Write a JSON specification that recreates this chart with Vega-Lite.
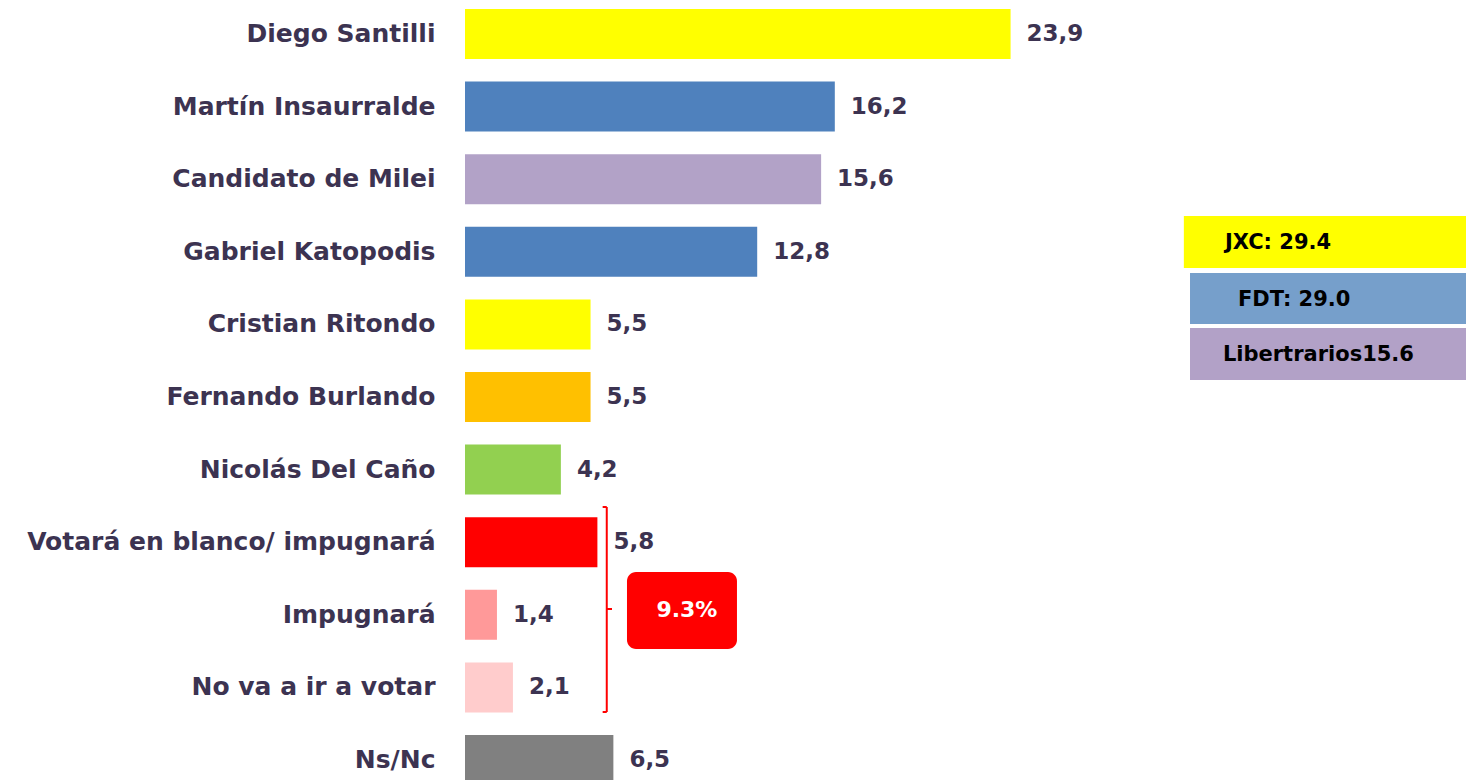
{
  "$schema": "https://vega.github.io/schema/vega-lite/v6.json",
  "width": 1001,
  "height": 794,
  "autosize": {"type": "none"},
  "padding": {"left": 465, "top": 0, "right": 0, "bottom": 0},
  "background": "white",
  "config": {
    "view": {"stroke": null},
    "locale": {"number": {"decimal": ",", "thousands": ".", "grouping": [3], "currency": ["", " €"]}}
  },
  "resolve": {"scale": {"y": "independent", "color": "independent"}},
  "layer": [
    {
      "data": {
        "values": [
          {"candidato": "Diego Santilli", "valor": 23.9},
          {"candidato": "Martín Insaurralde", "valor": 16.2},
          {"candidato": "Candidato de Milei", "valor": 15.6},
          {"candidato": "Gabriel Katopodis", "valor": 12.8},
          {"candidato": "Cristian Ritondo", "valor": 5.5},
          {"candidato": "Fernando Burlando", "valor": 5.5},
          {"candidato": "Nicolás Del Caño", "valor": 4.2},
          {"candidato": "Votará en blanco/ impugnará", "valor": 5.8},
          {"candidato": "Impugnará", "valor": 1.4},
          {"candidato": "No va a ir a votar", "valor": 2.1},
          {"candidato": "Ns/Nc", "valor": 6.5}
        ]
      },
      "encoding": {
        "y": {
          "field": "candidato",
          "type": "nominal",
          "sort": null,
          "scale": {"paddingInner": 0.5, "paddingOuter": 0.2183},
          "axis": {
            "title": null,
            "domain": false,
            "ticks": false,
            "labelPadding": 30,
            "labelFont": "DejaVu Sans",
            "labelFontWeight": "bold",
            "labelFontSize": 25,
            "labelColor": "#3c3351",
            "labelLimit": 600
          }
        },
        "x": {
          "field": "valor",
          "type": "quantitative",
          "scale": {"domain": [0, 43.85], "nice": false, "zero": true},
          "axis": null
        }
      },
      "layer": [
        {
          "mark": {"type": "bar", "size": 50},
          "encoding": {
            "color": {
              "field": "candidato",
              "type": "nominal",
              "legend": null,
              "scale": {
                "domain": ["Diego Santilli", "Martín Insaurralde", "Candidato de Milei", "Gabriel Katopodis", "Cristian Ritondo", "Fernando Burlando", "Nicolás Del Caño", "Votará en blanco/ impugnará", "Impugnará", "No va a ir a votar", "Ns/Nc"],
                "range": ["#ffff00", "#4f81bd", "#b2a2c7", "#4f81bd", "#ffff00", "#ffc000", "#92d050", "#ff0000", "#ff9999", "#ffcccc", "#808080"]
              }
            }
          }
        },
        {
          "mark": {"type": "text", "align": "left", "baseline": "middle", "dx": 16, "font": "DejaVu Sans", "fontWeight": "bold", "fontSize": 23, "color": "#3c3351"},
          "encoding": {"text": {"field": "valor", "type": "quantitative", "format": ".1f"}}
        }
      ]
    },
    {
      "layer": [
        {
          "data": {
            "values": [
              {"grupo": "JXC", "x0": 31.49, "x1": 43.85, "y0": 2.507, "y1": 3.223},
              {"grupo": "FDT", "x0": 31.76, "x1": 43.85, "y0": 3.292, "y1": 3.994},
              {"grupo": "Libertarios", "x0": 31.76, "x1": 43.85, "y0": 4.05, "y1": 4.766}
            ]
          },
          "mark": {"type": "rect"},
          "encoding": {
            "x": {"field": "x0", "type": "quantitative", "scale": {"domain": [0, 43.85], "nice": false}, "axis": null},
            "x2": {"field": "x1"},
            "y": {"field": "y0", "type": "quantitative", "scale": {"domain": [-0.4683, 10.4683], "reverse": true, "nice": false, "zero": false}, "axis": null},
            "y2": {"field": "y1"},
            "color": {
              "field": "grupo",
              "type": "nominal",
              "legend": null,
              "scale": {"domain": ["JXC", "FDT", "Libertarios"], "range": ["#ffff00", "#769fcb", "#b2a1c7"]}
            }
          }
        },
        {
          "data": {
            "values": [
              {"texto": "JXC: 29.4", "x": 33.29, "y": 2.879},
              {"texto": "FDT: 29.0", "x": 33.86, "y": 3.664},
              {"texto": "Libertrarios15.6", "x": 33.2, "y": 4.421}
            ]
          },
          "mark": {"type": "text", "align": "left", "baseline": "middle", "font": "DejaVu Sans", "fontWeight": "bold", "fontSize": 21, "color": "#000000"},
          "encoding": {
            "x": {"field": "x", "type": "quantitative", "scale": {"domain": [0, 43.85], "nice": false}, "axis": null},
            "y": {"field": "y", "type": "quantitative", "axis": null},
            "text": {"field": "texto"}
          }
        },
        {
          "data": {
            "values": [
              {"x0": 6.21, "x1": 6.21, "y0": 6.515, "y1": 9.339},
              {"x0": 6.03, "x1": 6.21, "y0": 6.515, "y1": 6.515},
              {"x0": 6.03, "x1": 6.21, "y0": 9.339, "y1": 9.339},
              {"x0": 6.21, "x1": 6.44, "y0": 7.92, "y1": 7.92}
            ]
          },
          "mark": {"type": "rule", "color": "#ff0000", "strokeWidth": 2},
          "encoding": {
            "x": {"field": "x0", "type": "quantitative", "scale": {"domain": [0, 43.85], "nice": false}, "axis": null},
            "x2": {"field": "x1"},
            "y": {"field": "y0", "type": "quantitative", "axis": null},
            "y2": {"field": "y1"}
          }
        },
        {
          "data": {"values": [{"texto": "9.3%", "x0": 7.096, "x1": 11.914, "y0": 7.41, "y1": 8.471, "tx": 9.72, "ty": 7.934}]},
          "layer": [
            {
              "mark": {"type": "rect", "color": "#ff0000", "cornerRadius": 9},
              "encoding": {
                "x": {"field": "x0", "type": "quantitative", "scale": {"domain": [0, 43.85], "nice": false}, "axis": null},
                "x2": {"field": "x1"},
                "y": {"field": "y0", "type": "quantitative", "axis": null},
                "y2": {"field": "y1"}
              }
            },
            {
              "mark": {"type": "text", "align": "center", "baseline": "middle", "font": "DejaVu Sans", "fontWeight": "bold", "fontSize": 22, "color": "#ffffff"},
              "encoding": {
                "x": {"field": "tx", "type": "quantitative", "scale": {"domain": [0, 43.85], "nice": false}, "axis": null},
                "y": {"field": "ty", "type": "quantitative", "axis": null},
                "text": {"field": "texto"}
              }
            }
          ]
        }
      ]
    }
  ]
}
